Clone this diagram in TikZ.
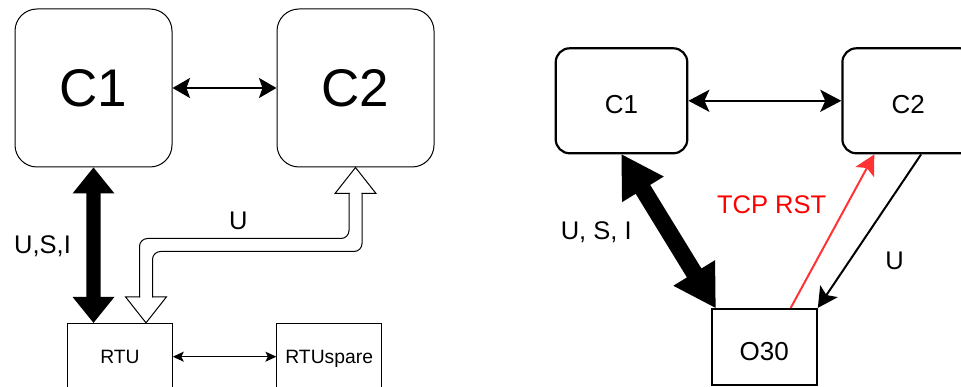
\documentclass[tikz,border=0pt]{standalone}
\usepackage{fontspec}
\setmainfont{Liberation Sans}
\usetikzlibrary{calc,arrows.meta}

\definecolor{tcpred}{RGB}{255,0,0}
\definecolor{rstline}{RGB}{255,51,51}

% Solid double-headed block arrow between two points:
% #1 from, #2 to, #3 head length, #4 head half width, #5 shaft half width
\newcommand{\dblblock}[5]{%
  \coordinate (dbA) at ($(#1)!#3!(#2)$);
  \coordinate (dbB) at ($(#2)!#3!(#1)$);
  \fill[black] (#1)
    -- ($(dbA)!#4!90:(#2)$) -- ($(dbA)!#5!90:(#2)$)
    -- ($(dbB)!#5!-90:(#1)$) -- ($(dbB)!#4!-90:(#1)$)
    -- (#2)
    -- ($(dbB)!#4!90:(#1)$) -- ($(dbB)!#5!90:(#1)$)
    -- ($(dbA)!#5!-90:(#2)$) -- ($(dbA)!#4!-90:(#2)$)
    -- cycle;
}

\begin{document}
\begin{tikzpicture}[x=1pt,y=-1pt,
  box/.style={draw, line width=1pt, inner sep=0pt, text depth=0pt},
  lbox/.style={box, rounded corners=22pt, minimum width=157pt, minimum height=158pt,
    font=\fontsize{53}{60}\selectfont, text height=38pt},
  sbox/.style={box, minimum width=104.6pt, minimum height=66.7pt,
    font=\fontsize{19.3}{23}\selectfont, text height=13.8pt},
  rbox/.style={draw, line width=2.2pt, inner sep=0pt, text depth=0pt, text height=26pt,
    font=\fontsize{26}{30}\selectfont, minimum width=131.6pt, minimum height=105pt},
  rround/.style={rbox, rounded corners=14pt},
  lbl/.style={inner sep=0pt, text height=18.3pt, text depth=0pt,
    font=\fontsize{25.5}{30}\selectfont},
  biglink/.style={line width=2.2pt, {Stealth[length=17.5pt,width=20pt,inset=3.5pt]}-{Stealth[length=17.5pt,width=20pt,inset=3.5pt]}},
  smalllink/.style={line width=1.2pt, {Stealth[length=11pt,width=10pt,inset=2.5pt]}-{Stealth[length=11pt,width=10pt,inset=2.5pt]}},
  rlink/.style={line width=2.2pt, {Stealth[length=21pt,width=22pt,inset=5pt]}-{Stealth[length=21pt,width=22pt,inset=5pt]}},
  onelink/.style={line width=2pt, -{Stealth[length=20pt,width=21pt,inset=4.5pt]}},
  hollow/.style={line width=1pt, line cap=rect}
]
\clip (0,0) rectangle (961,387);

% ---- left setup ----
\node[lbox] (lc1) at (93.5,88) {C1};
\node[lbox] (lc2) at (355.5,88) {C2};
\node[sbox] (rtu) at (120,356.7) {RTU};
\node[sbox] (rtus) at (329.2,356.7) {RTUspare};

\draw[biglink] (lc1) -- (lc2);
\draw[smalllink] (rtu) -- (rtus);

% thick link C1 <-> RTU
\coordinate (ltip) at (lc1.south |- rtu.north);
\dblblock{lc1.south}{ltip}{26pt}{21pt}{7.2pt}

% hollow link RTU <-> C2
\coordinate (T) at (lc2.south);
\coordinate (Bt) at ($(rtu.north)+(26,0)$);
\coordinate (turn) at (250,245);
\begin{scope}[hollow]
  \draw ($(T)+(-6.5,26)$) -- ($(T)+(-20.5,26)$) -- (T) -- ($(T)+(20.5,26)$) -- ($(T)+(6.5,26)$);
  \draw ($(Bt)+(-6.5,-26)$) -- ($(Bt)+(-20.5,-26)$) -- (Bt) -- ($(Bt)+(20.5,-26)$) -- ($(Bt)+(6.5,-26)$);
  \draw[rounded corners=8pt] ($(T)+(-6.5,26)$) -- ($(T|-turn)+(-6.5,-6.5)$)
    -- ($(Bt|-turn)+(-6.5,-6.5)$) -- ($(Bt)+(-6.5,-26)$);
  \draw[rounded corners=8pt] ($(T)+(6.5,26)$) -- ($(T|-turn)+(6.5,6.5)$)
    -- ($(Bt|-turn)+(6.5,6.5)$) -- ($(Bt)+(6.5,-26)$);
\end{scope}

\node[lbl] (lusi) at (42.5,244.5) {U,S,I};
\node[lbl] (lu) at (238.3,220.8) {U};

% ---- right setup ----
\node[rround] (rc1) at (621.5,100.8) {C1};
\node[rround] (rc2) at (908.2,100.8) {C2};
\node[rbox, minimum width=105pt, minimum height=76pt] (o30) at (764.2,347) {O30};

\draw[rlink] (rc1) -- (rc2);

\coordinate (rtip) at ($(o30.north west)+(5,0)$);
\dblblock{rc1.south}{rtip}{41pt}{24.5pt}{8.5pt}

\coordinate (redS) at ($(o30.north)+(26.5,0)$);
\coordinate (redE) at ($(rc2.south west)+(33,0)$);
\draw[onelink, rstline] (redS) -- (redE);

\coordinate (uS) at ($(rc2.south west)+(79.8,0)$);
\draw[onelink] (uS) -- (o30.north east);

\node[lbl] (rusi) at (596.2,230.8) {U, S, I};
\node[lbl, text=tcpred] (rst) at (771.7,204.5) {TCP RST};
\node[lbl] (ru) at (894.5,260.3) {U};
\end{tikzpicture}
\end{document}
